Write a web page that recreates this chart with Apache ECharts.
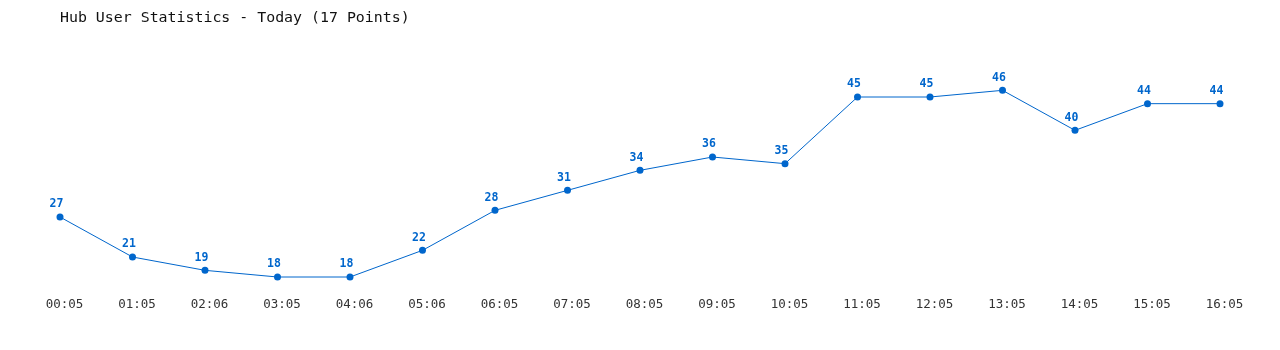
<!DOCTYPE html>
<html>
<head>
<meta charset="utf-8">
<script src="https://cdn.jsdelivr.net/npm/echarts@6/dist/echarts.min.js"></script>
<style>html,body{margin:0;padding:0;background:#fff;}#c{width:1280px;height:350px;}</style>
</head>
<body>
<div id="c"></div>
<script>
var titleText = 'Hub User Statistics - Today (17 Points)';
var categories = ['00:05','01:05','02:06','03:05','04:06','05:06','06:05','07:05','08:05','09:05','10:05','11:05','12:05','13:05','14:05','15:05','16:05'];
var users = [27,21,19,18,18,22,28,31,34,36,35,45,45,46,40,44,44];

var chart = echarts.init(document.getElementById('c'), null, {renderer:'canvas'});
chart.setOption({
  animation: false,
  backgroundColor: '#ffffff',
  title: {
    text: titleText,
    left: 55, top: 4,
    textStyle: {fontFamily: 'DejaVu Sans Mono', fontSize: 14.9, fontWeight: 'normal', color: '#111', lineHeight: 18}
  },
  grid: {left: 60, right: 60, top: 63.67, bottom: 53, containLabel: false},
  xAxis: {
    type: 'category', data: categories, boundaryGap: false,
    axisLine: {show: false}, axisTick: {show: false}, splitLine: {show: false},
    axisLabel: {fontFamily: 'DejaVu Sans Mono', fontSize: 12.5, color: '#333', margin: 1, interval: 0, padding: [0, 0, 0, 9]}
  },
  yAxis: {
    type: 'value', min: 15, max: 50,
    show: false, splitLine: {show: false}
  },
  series: [{
    type: 'line', data: users,
    symbol: 'circle', symbolSize: 7,
    lineStyle: {color: '#0066cc', width: 1},
    itemStyle: {color: '#0066cc'},
    label: {show: true, position: 'top', distance: 3, offset: [-3.5, 0], color: '#0066cc', fontFamily: 'DejaVu Sans Mono', fontWeight: 'bold', fontSize: 11.5}
  }]
});
</script>
</body>
</html>
